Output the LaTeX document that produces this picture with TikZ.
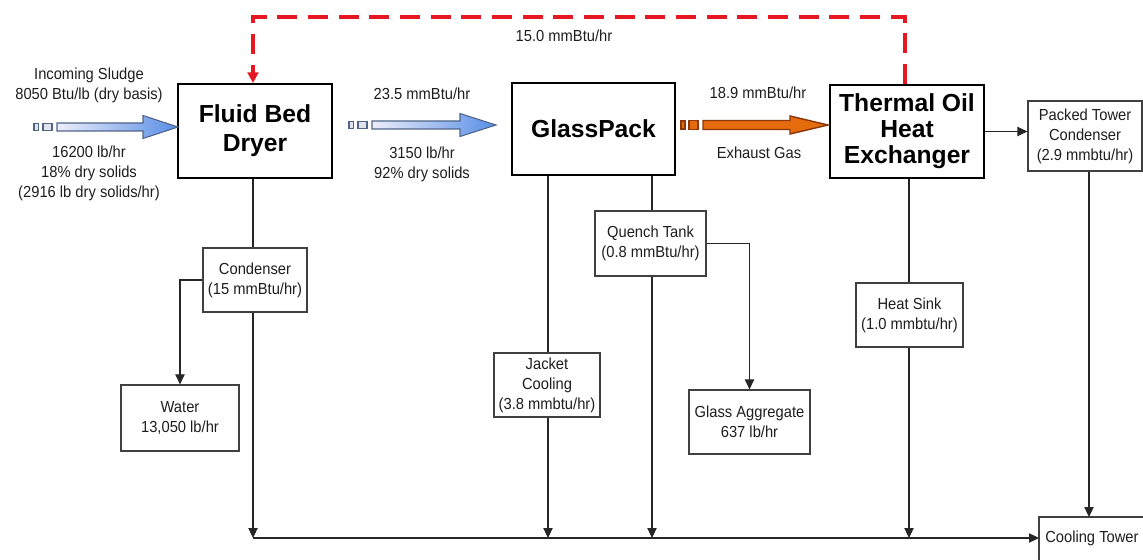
\documentclass[tikz,border=0pt]{standalone}
\usepackage{fontspec}
\setmainfont{Liberation Sans}[FakeStretch=0.92]
\newfontfamily\titlefam{Liberation Sans}
\usetikzlibrary{arrows.meta,calc}
\definecolor{redline}{RGB}{230,25,35}
\definecolor{arrowlight}{RGB}{236,238,250}
\definecolor{arrowblue}{RGB}{88,142,230}
\definecolor{arrowedge}{RGB}{80,100,135}
\definecolor{sqfill}{RGB}{225,228,238}
\definecolor{orangefill}{RGB}{228,108,12}
\definecolor{orangeedge}{RGB}{140,55,10}
\definecolor{ink}{RGB}{30,30,30}
\newcommand\fatarrow[7]{\path[#1] (#2,{#5-#6}) -- (#3,{#5-#6}) -- (#3,{#5-#7}) -- (#4,#5) -- (#3,{#5+#7}) -- (#3,{#5+#6}) -- (#2,{#5+#6}) -- cycle;}
\begin{document}
\begin{tikzpicture}[x=0.75pt,y=-0.75pt,
  txt/.style={font=\fontsize{12}{15}\selectfont, text=ink, align=center},
  lbl/.style={txt, inner sep=0pt},
  smallbox/.style={txt, draw=black!75, line width=0.9pt, fill=white, inner sep=0pt},
  bigbox/.style={draw=black, line width=1.4pt, fill=white, align=center, inner sep=0pt, text=black},
  titlefont/.style={font=\titlefam\bfseries\fontsize{18.5}{#1}\selectfont},
  conn/.style={line width=0.8pt, draw=black!85, -{Triangle[length=7.5pt,width=7pt]}},
  plainline/.style={line width=0.8pt, draw=black!85},
  reddash/.style={draw=redline, line width=2.6pt, dash pattern=on 15pt off 8pt, -{Triangle[length=8pt,width=8pt]}},
  bluearrow/.style={draw=arrowedge, line width=0.8pt, left color=arrowlight, right color=arrowblue},
  bluesq/.style={draw=arrowedge, line width=0.8pt, fill=sqfill},
  orangearrow/.style={draw=orangeedge, line width=1.1pt, fill=orangefill},
  orangesq/.style={draw=orangeedge, line width=1pt, fill=orangefill}]
\useasboundingbox (0,0) rectangle (1143,560);

% main process boxes
\node[bigbox, titlefont=21.75, minimum width=115.5pt, minimum height=70.5pt] (fbd) at (255,131) {Fluid Bed\\Dryer};
\node[bigbox, titlefont=22, minimum width=122.25pt, minimum height=69pt] (gp) at (593.5,129) {GlassPack};
\node[bigbox, titlefont=19.6, minimum width=115.5pt, minimum height=69.75pt] (tohe) at (907,131.5) {Thermal Oil\\Heat\\Exchanger};
\node[smallbox, minimum width=85.5pt, minimum height=52.5pt] (ptc) at (1085,136) {Packed Tower\\Condenser\\(2.9 mmbtu/hr)};

% secondary boxes
\node[smallbox, minimum width=78pt, minimum height=48pt] (cond) at (255,280) {Condenser\\(15 mmBtu/hr)};
\node[smallbox, minimum width=88.5pt, minimum height=49.5pt] (water) at (180,418) {Water\\13,050 lb/hr};
\node[smallbox, minimum width=79.5pt, minimum height=48pt] (jc) at (547,385) {Jacket\\Cooling\\(3.8 mmbtu/hr)};
\node[smallbox, minimum width=83.25pt, minimum height=48.75pt] (qt) at (650.5,243.5) {Quench Tank\\(0.8 mmBtu/hr)};
\node[smallbox, minimum width=90.75pt, minimum height=48pt] (ga) at (749.5,422) {Glass Aggregate\\637 lb/hr};
\node[smallbox, minimum width=80.25pt, minimum height=48pt] (hs) at (909.5,315) {Heat Sink\\(1.0 mmbtu/hr)};
\node[lbl, anchor=north west, inner xsep=4.5pt, minimum height=32.25pt] (ct) at (1039,517) {Cooling Tower};
\draw[draw=black!75, line width=0.9pt] (ct.south west) -- (ct.north west) -- (1143,517);

% flow labels
\node[lbl] (l1) at (89,85) {Incoming Sludge\\8050 Btu/lb (dry basis)};
\node[lbl] (l2) at (89,173) {16200 lb/hr\\18\% dry solids\\(2916 lb dry solids/hr)};
\node[lbl] (l3) at (422,94) {23.5 mmBtu/hr};
\node[lbl] (l4) at (422,164) {3150 lb/hr\\92\% dry solids};
\node[lbl] (l5) at (758,93) {18.9 mmBtu/hr};
\node[lbl] (l6) at (759,153) {Exhaust Gas};
\node[lbl] (l7) at (564,36) {15.0 mmBtu/hr};

% fat flow arrows
\path[bluesq] (34,123.5) rectangle (38.5,130.5);
\path[bluesq] (43,123.5) rectangle (52,130.5);
\fatarrow{bluearrow}{57}{143}{178}{127}{4}{11.5}
\path[bluesq] (349,121.5) rectangle (353.5,128.5);
\path[bluesq] (358,121.5) rectangle (367,128.5);
\fatarrow{bluearrow}{372}{460}{496}{125}{4}{11.5}
\path[orangesq] (681,121) rectangle (685,129);
\path[orangesq] (689,120.5) rectangle (698,129.5);
\fatarrow{orangearrow}{703}{790}{828}{125}{4.5}{9}

% heat recovery loop
\coordinate (r1) at (253,17);
\coordinate (r2) at (905,17);
\draw[reddash] (tohe.north -| r2) -- (r2) -- (r1) -- (fbd.north -| r1);

% collection line coordinates
\coordinate (b1) at (253,538);
\coordinate (b2) at (548,538);
\coordinate (b3) at (652,538);
\coordinate (b4) at (909,538);
\coordinate (c5) at (1089,517);

\draw[plainline] (fbd.south -| b1) -- (cond.north -| b1);
\draw[conn] (cond.south -| b1) -- (b1);
\draw[conn] (cond.west) -| (water.north);
\draw[plainline] (gp.south -| b2) -- (jc.north -| b2);
\draw[conn] (jc.south -| b2) -- (b2);
\draw[plainline] (gp.south -| b3) -- (qt.north -| b3);
\draw[conn] (qt.south -| b3) -- (b3);
\draw[conn] (qt.east) -| (ga.north);
\draw[plainline] (tohe.south -| b4) -- (hs.north -| b4);
\draw[conn] (hs.south -| b4) -- (b4);
\draw[conn] (tohe.east) -- (tohe.east -| ptc.west);
\draw[conn] (ptc.south -| c5) -- (c5);
\draw[conn] (b1) -- (b1 -| ct.west);
\end{tikzpicture}
\end{document}
